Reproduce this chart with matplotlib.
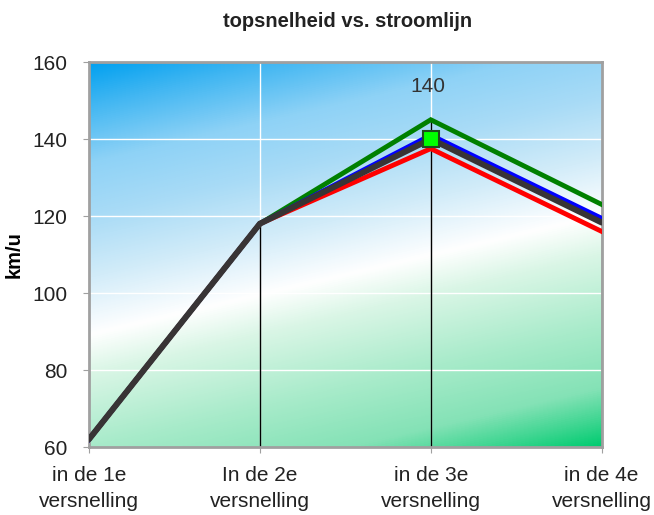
import numpy as np
import matplotlib.pyplot as plt
from matplotlib.colors import LinearSegmentedColormap

plt.rcParams['font.family'] = ['Liberation Sans', 'DejaVu Sans']

categories = ['in de 1e\nversnelling', 'In de 2e\nversnelling',
              'in de 3e\nversnelling', 'in de 4e\nversnelling']
red = [62, 118, 137.5, 116]
green = [62, 118, 145, 123]
blue = [62, 118, 141, 119.4]
dark = [62, 118, 140, 118.3]
marked_idx = 2

fig = plt.figure(figsize=(6.54, 5.15), dpi=100)
ax = fig.add_axes([0.136, 0.132, 0.784, 0.7476])
x = np.arange(len(categories))

# diagonal sky-to-grass background
nx, ny = 400, 400
gx, gy = np.meshgrid(np.linspace(0, 1, nx), np.linspace(1, 0, ny))
s = gy - 0.29 - 0.31 * gx
smin, smax = -0.6, 0.71
stops = [(-0.6, '#00cc70'), (-0.53, '#40d692'), (-0.45, '#84e2b6'),
         (-0.29, '#a8ebca'), (-0.1, '#daf6e6'), (0.0, '#ffffff'),
         (0.15, '#d2ecf9'), (0.31, '#a8dbf6'), (0.45, '#8ed2f6'),
         (0.6, '#40b6f2'), (0.71, '#00a0f0')]
cmap = LinearSegmentedColormap.from_list(
    'bg', [((v - smin) / (smax - smin), c) for v, c in stops])
ax.imshow(s, cmap=cmap, vmin=smin, vmax=smax, aspect='auto',
          extent=[0, 3, 60, 160], zorder=0, interpolation='bilinear')

ax.set_xlim(0, 3)
ax.set_ylim(60, 160)
for yv in [80, 100, 120, 140]:
    ax.axhline(yv, color='white', lw=1, zorder=1)
for xv in [1, 2]:
    ax.axvline(xv, color='white', lw=1, zorder=1)

tops = np.max([red, green, blue, dark], axis=0)
ax.vlines(x[1:], 60, tops[1:], color='black', lw=1, zorder=2)

ax.plot(x, red, color='#ff0000', lw=3.5, zorder=3, solid_joinstyle='miter')
ax.plot(x, green, color='#008000', lw=3.5, zorder=3, solid_joinstyle='miter')
ax.plot(x, blue, color='#0000ff', lw=3.5, zorder=4, solid_joinstyle='miter')
ax.plot(x, dark, color='#383435', lw=4.3, zorder=5, solid_joinstyle='miter',
        solid_capstyle='round')
ax.plot(x[marked_idx], dark[marked_idx], 's', ms=12, mfc='#00ff00',
        mec='#1f4a1f', mew=1.5, zorder=6)
ax.annotate(f'{dark[marked_idx]:g}', (x[marked_idx], dark[marked_idx]),
            xytext=(-2, 38), textcoords='offset points', ha='center',
            va='center', fontsize=15, color='#333333', zorder=7)

ax.set_xticks(x)
ax.set_xticklabels(categories, fontsize=15, color='#222222')
for lbl in ax.get_xticklabels():
    lbl.set_linespacing(1.45)
ax.set_yticks(range(60, 161, 20))
ax.tick_params(axis='y', labelsize=15, colors='#222222', length=4.5,
               color='#a0a0a0', pad=11)
ax.tick_params(axis='x', length=4.5, color='#a0a0a0', pad=9)
for sp in ax.spines.values():
    sp.set_color('#a0a0a0')
    sp.set_linewidth(2)
ax.set_ylabel('km/u', fontsize=14.5, fontweight='bold')
ax.yaxis.set_label_coords(-0.127, 0.5)
fig.text(0.531, 0.958, 'topsnelheid vs. stroomlijn', ha='center', va='center',
         fontsize=14.5, fontweight='bold', color='#222222')

fig.savefig('out.png', dpi=100)
